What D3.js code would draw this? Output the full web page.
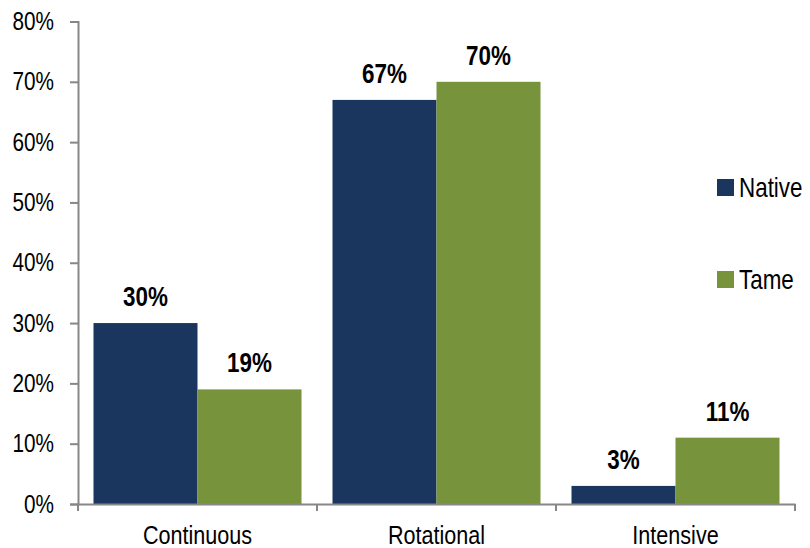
<!DOCTYPE html>
<html>
<head>
<meta charset="utf-8">
<script src="https://cdn.jsdelivr.net/npm/d3@7"></script>
<style>
  body { margin: 0; background: #fff; }
  text { font-family: "Liberation Sans", Arial, sans-serif; }
</style>
</head>
<body>
<div id="chart"></div>
<script>
var categories = ["Continuous", "Rotational", "Intensive"];
var seriesNames = ["Native", "Tame"];
var nativeValues = [30, 67, 3];
var tameValues = [19, 70, 11];
var yTicks = [0, 10, 20, 30, 40, 50, 60, 70, 80];

var colors = { Native: "#1a365e", Tame: "#77933c" };
var svg_width = 810, svg_height = 548;
var plot_left = 78, plot_right = 795, plot_top = 21.5, plot_bottom = 504;
var axis_color = "#878787";
var tick_font = 25, cat_font = 26, label_font = 27;
var squeeze = 0.83; // fake a narrow font by scaling horizontally

function narrow(dx, dy) {
  return "translate(" + dx + "," + dy + ") scale(" + squeeze + ",1)";
}

var data = categories.map(function(c, i) {
  return { category: c, Native: nativeValues[i], Tame: tameValues[i] };
});

var x = d3.scaleBand()
          .domain(categories)
          .range([plot_left, plot_right]);

var inner = d3.scaleBand()
              .domain(seriesNames)
              .range([15.5, x.bandwidth() - 15.5]);

var y = d3.scaleLinear()
          .domain([0, 80])
          .range([plot_bottom, plot_top]);

var svg = d3.select("#chart")
            .append("svg")
            .attr("width", svg_width)
            .attr("height", svg_height);

// bars
var groups = svg.selectAll("g.group")
  .data(data)
  .enter()
    .append("g")
    .attr("class", "group")
    .attr("transform", function(d) { return "translate(" + x(d.category) + ",0)"; });

function pairs(d) {
  return seriesNames.map(function(s) { return { key: s, value: d[s] }; });
}

groups.selectAll("rect")
  .data(pairs)
  .enter()
    .append("rect")
    .attr("x", function(d) { return inner(d.key); })
    .attr("width", inner.bandwidth())
    .attr("y", function(d) { return y(d.value); })
    .attr("height", function(d) { return plot_bottom - y(d.value); })
    .attr("fill", function(d) { return colors[d.key]; });

groups.selectAll("text.value")
  .data(pairs)
  .enter()
    .append("text")
    .attr("class", "value")
    .attr("transform", function(d) {
      return narrow(inner(d.key) + inner.bandwidth() / 2, y(d.value) - 17);
    })
    .attr("text-anchor", "middle")
    .attr("font-size", label_font)
    .attr("font-weight", "bold")
    .attr("fill", "#000")
    .text(function(d) { return d.value + "%"; });

// y axis
var yAxis = d3.axisLeft(y)
              .tickValues(yTicks)
              .tickSize(8)
              .tickPadding(16)
              .tickFormat(function(d) { return d + "%"; });

var gy = svg.append("g")
  .attr("transform", "translate(" + plot_left + ",0)")
  .call(yAxis)
  .attr("font-family", null);
gy.select(".domain").attr("stroke", axis_color).attr("stroke-width", 2);
gy.selectAll(".tick line").attr("stroke", axis_color).attr("stroke-width", 2);
gy.selectAll(".tick text")
  .attr("x", null)
  .attr("transform", narrow(-24, 0))
  .attr("font-size", tick_font)
  .attr("fill", "#000");

// x axis
var xAxis = d3.axisBottom(x).tickSize(0).tickPadding(0);
var gx = svg.append("g")
  .attr("transform", "translate(0," + plot_bottom + ")")
  .call(xAxis)
  .attr("font-family", null);
gx.select(".domain").attr("stroke", axis_color).attr("stroke-width", 2);
gx.selectAll(".tick text")
  .attr("y", null)
  .attr("dy", null)
  .attr("transform", narrow(0, 40))
  .attr("font-size", cat_font)
  .attr("fill", "#000");

// category boundary ticks
var bounds = categories.map(function(c) { return x(c); })
  .concat([x(categories[categories.length - 1]) + x.bandwidth()]);
gx.selectAll("line.bound")
  .data(bounds)
  .enter()
    .append("line")
    .attr("class", "bound")
    .attr("x1", function(d) { return d; })
    .attr("x2", function(d) { return d; })
    .attr("y1", 0)
    .attr("y2", 7)
    .attr("stroke", axis_color)
    .attr("stroke-width", 2);

// legend
var legend = svg.selectAll("g.legend")
  .data(seriesNames)
  .enter()
    .append("g")
    .attr("class", "legend")
    .attr("transform", function(d, i) { return "translate(717," + (179 + i * 92) + ")"; });

legend.append("rect")
  .attr("width", 17)
  .attr("height", 17)
  .attr("fill", function(d) { return colors[d]; });

legend.append("text")
  .attr("transform", narrow(22, 8.5))
  .attr("dy", "0.35em")
  .attr("font-size", label_font)
  .attr("fill", "#000")
  .text(function(d) { return d; });
</script>
</body>
</html>
